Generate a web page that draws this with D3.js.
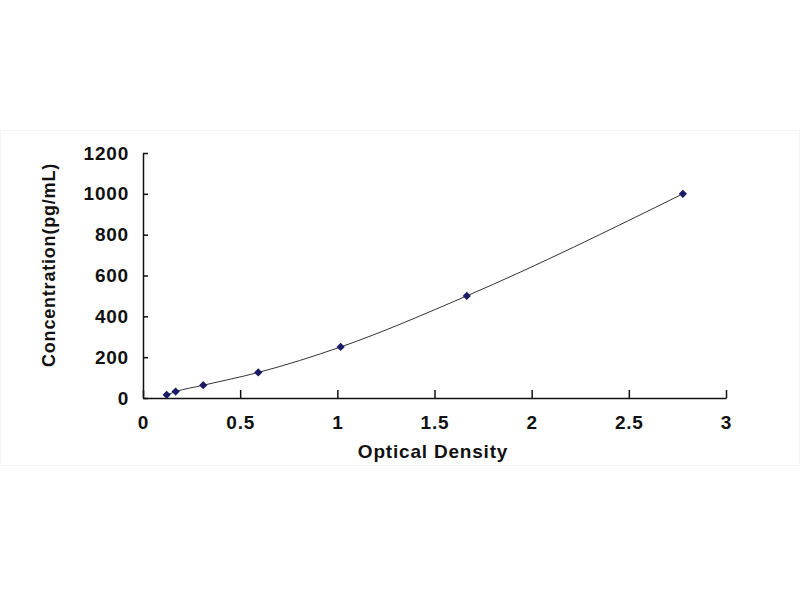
<!DOCTYPE html>
<html>
<head>
<meta charset="utf-8">
<script src="https://cdn.jsdelivr.net/npm/d3@7"></script>
<style>
  body { margin: 0; background: #fff; }
  text { font-family: "Liberation Sans", Arial, sans-serif; font-weight: bold; fill: #111; }
</style>
</head>
<body>
<div id="canvas"></div>
<script>
var w = 800;
var h = 600;

// standard curve points
var od = [0.122, 0.168, 0.31, 0.593, 1.017, 1.666, 2.778];
var conc = [15.6, 31.25, 62.5, 125, 250, 500, 1000];
var xTicks = [0, 0.5, 1, 1.5, 2, 2.5, 3];
var yTicks = [0, 200, 400, 600, 800, 1000, 1200];

var points = od.map((d, i) => ({od: d, conc: conc[i]}));

var xScale = d3.scaleLinear()
               .domain([0, 3])
               .range([143, 726]);

var yScale = d3.scaleLinear()
               .domain([0, 1200])
               .range([398, 153]);

var canvas = d3.select("#canvas")
               .append("svg")
               .attr("width", w)
               .attr("height", h)
               .style("background-color", "white");

// faint frame of the pasted chart area
canvas.append("rect")
    .attr("x", 0.5)
    .attr("y", 130.5)
    .attr("width", w - 1)
    .attr("height", 335)
    .attr("fill", "none")
    .attr("stroke", "#f5f5f5");

var xAxis = d3.axisBottom(xScale)
              .tickValues(xTicks)
              .tickSizeInner(-8)
              .tickSizeOuter(0)
              .tickPadding(18)
              .tickFormat(d3.format("~g"));

var yAxis = d3.axisLeft(yScale)
              .tickValues(yTicks)
              .tickSizeInner(-5)
              .tickSizeOuter(0)
              .tickPadding(14)
              .tickFormat(d3.format("d"));

var gx = canvas.append("g")
    .attr("transform", `translate(0, ${yScale(0)})`)
    .call(xAxis);

var gy = canvas.append("g")
    .attr("transform", `translate(${xScale(0)}, 0)`)
    .call(yAxis);

[gx, gy].forEach(g => {
  g.selectAll("path, line").attr("stroke", "#111").attr("stroke-width", 1.5);
  g.selectAll("text")
   .attr("font-size", 19)
   .attr("font-family", "Liberation Sans, Arial, sans-serif")
   .attr("font-weight", "bold")
   .attr("letter-spacing", "0.8px")
   .attr("fill", "#111");
});

canvas.append("text")
    .attr("text-anchor", "middle")
    .attr("x", 433)
    .attr("y", 458)
    .attr("font-size", 19)
    .attr("letter-spacing", "0.8px")
    .text("Optical Density");

canvas.append("text")
    .attr("text-anchor", "middle")
    .attr("transform", "translate(55, 265) rotate(-90)")
    .attr("font-size", 18)
    .attr("letter-spacing", "0.8px")
    .text("Concentration(pg/mL)");

var line = d3.line()
             .x(d => xScale(d.od))
             .y(d => yScale(d.conc))
             .curve(d3.curveMonotoneX);

canvas.append("path")
    .datum(points)
    .attr("d", line)
    .attr("fill", "none")
    .attr("stroke", "#333")
    .attr("stroke-width", 1);

canvas.selectAll(".pt")
    .data(points)
    .join("path")
    .attr("class", "pt")
    .attr("d", d3.symbol(d3.symbolSquare).size(34))
    .attr("fill", "#1a1a66")
    .attr("transform", d => `translate(${xScale(d.od)}, ${yScale(d.conc)}) rotate(45)`);
</script>
</body>
</html>
